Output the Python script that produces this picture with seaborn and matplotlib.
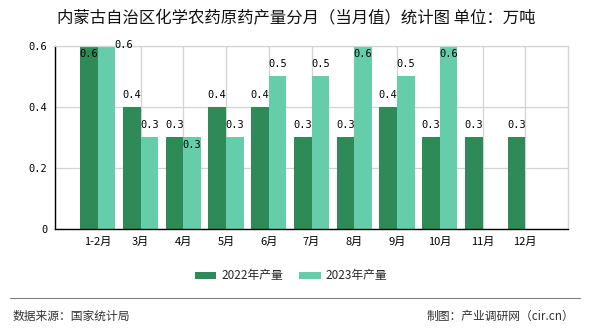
import numpy as np
import pandas as pd
import matplotlib
matplotlib.use("Agg")
import matplotlib.pyplot as plt
import seaborn as sns

categories = ["1-2月", "3月", "4月", "5月", "6月", "7月", "8月", "9月", "10月", "11月", "12月"]
values_2022 = [0.6, 0.4, 0.3, 0.4, 0.4, 0.3, 0.3, 0.4, 0.3, 0.3, 0.3]
values_2023 = [0.6, 0.3, 0.3, 0.3, 0.5, 0.5, 0.6, 0.5, 0.6, np.nan, np.nan]
series_names = ["2022年产量", "2023年产量"]
colors = ["#2E8B57", "#66CDAA"]
yticks = [0, 0.2, 0.4, 0.6]
ytick_labels = ["0", "0.2", "0.4", "0.6"]
title = "内蒙古自治区化学农药原药产量分月（当月值）统计图 单位：万吨"
source = "数据来源：国家统计局"
credit = "制图：产业调研网（cir.cn）"

df = pd.DataFrame({
    "month": categories * 2,
    "series": [series_names[0]] * len(categories) + [series_names[1]] * len(categories),
    "value": values_2022 + values_2023,
})

sns.set_style("white")
plt.rcParams["font.family"] = ["Noto Sans CJK SC", "DejaVu Sans"]

fig = plt.figure(figsize=(5.9, 3.3), dpi=100)
ax = fig.add_axes([55 / 590, 1 - 229 / 330, 513 / 590, (229 - 45.7) / 330])

sns.barplot(data=df, x="month", y="value", hue="series", order=categories,
            hue_order=series_names, palette=colors, width=0.82, ax=ax,
            saturation=1, legend=True, errorbar=None, linewidth=0, edgecolor="none")

ax.set_xlim(-1, len(categories))
ax.set_ylim(0, 0.6)
ax.set_xticks(range(-1, len(categories) + 1))
ax.set_xticklabels([""] + categories + [""], fontsize=8)
ax.set_yticks(yticks)
ax.set_yticklabels(ytick_labels, family="DejaVu Sans Mono", fontsize=7.5)
ax.set_xlabel("")
ax.set_ylabel("")
ax.grid(True, color="#d3d3d3", linewidth=0.9)
ax.set_axisbelow(True)
ax.tick_params(axis="both", direction="out", length=3.5, width=0.8, color="black", pad=2, labelcolor="black")
for s in ["left", "bottom"]:
    ax.spines[s].set_color("black")
    ax.spines[s].set_linewidth(1)
for s in ["top", "right"]:
    ax.spines[s].set_color("#d3d3d3")
    ax.spines[s].set_linewidth(0.9)

# label offsets in pixels (dx, dy) relative to bar top centre
default_off = (0, 12)
special_off = {
    (0, 0): (0, -8), (1, 0): (17, 1), (1, 2): (0, -8),
    (1, 6): (0, -8), (1, 8): (0, -8),
}
for si, cont in enumerate(ax.containers):
    for p in cont.patches:
        h = p.get_height()
        if h is None or np.isnan(h) or h == 0:
            continue
        xc = p.get_x() + p.get_width() / 2
        ci = int(round(xc))
        dx, dy = special_off.get((si, ci), default_off)
        ax.annotate(f"{h:.1f}", (xc, h), xytext=(dx * 0.72, dy * 0.72),
                    textcoords="offset points", ha="center", va="center",
                    family="DejaVu Sans Mono", fontsize=7.5, color="black",
                    annotation_clip=False)

handles, labels = ax.get_legend_handles_labels()
ax.get_legend().remove()
fig.legend(handles, labels, loc="center", bbox_to_anchor=(291 / 590, 1 - 276 / 330),
           ncol=2, frameon=False, fontsize=8.5, handlelength=1.8, handleheight=0.6,
           handletextpad=0.4, columnspacing=1.4)

fig.text(296 / 590, 1 - 19 / 330, title, ha="center", va="center", fontsize=11.8, color="#111111")
fig.add_artist(plt.Line2D([10 / 590, 580 / 590], [1 - 298 / 330] * 2, color="#808080", linewidth=0.8))
fig.text(13 / 590, 1 - 316 / 330, source, ha="left", va="center", fontsize=8.5, color="#333333")
fig.text(574 / 590, 1 - 316 / 330, credit, ha="right", va="center", fontsize=8.5, color="#333333")

fig.savefig("out.png", dpi=100)
